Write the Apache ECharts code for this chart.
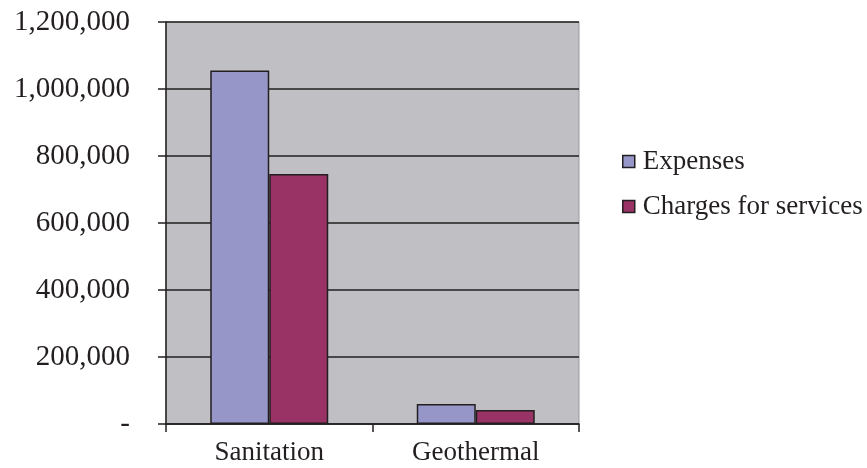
<!DOCTYPE html>
<html>
<head>
<meta charset="utf-8">
<script src="https://cdn.jsdelivr.net/npm/echarts@6/dist/echarts.min.js"></script>
<style>
  html, body { margin: 0; padding: 0; background: #fff; }
  #chart { width: 867px; height: 468px; }
</style>
</head>
<body>
<div id="chart"></div>
<script>
const categories = ['Sanitation', 'Geothermal'];
const expenses = [1055000, 60000];
const charges = [746000, 42000];
const seriesNames = ['Expenses', 'Charges for services'];

const chart = echarts.init(document.getElementById('chart'));
const font = 'Liberation Serif';
const barBorder = { borderColor: '#231f20', borderWidth: 1.5 };

chart.setOption({
  animation: false,
  textStyle: { fontFamily: font },
  grid: {
    left: 166, top: 22, width: 413, height: 402,
    show: true, backgroundColor: '#c0c0c4', borderColor: '#9a9a9a', borderWidth: 1
  },
  legend: {
    orient: 'vertical',
    left: 617, top: 143,
    itemWidth: 12, itemHeight: 12, itemGap: 18,
    icon: 'rect',
    textStyle: { fontFamily: font, fontSize: 27, color: '#231f20', padding: [0, 0, 0, 3] },
    data: seriesNames.map(n => ({ name: n, itemStyle: { borderColor: '#231f20', borderWidth: 1.5 } }))
  },
  xAxis: {
    type: 'category',
    data: categories,
    axisLine: { lineStyle: { color: '#231f20', width: 1.5 } },
    axisTick: { show: true, length: 8, lineStyle: { color: '#231f20', width: 1.5 } },
    axisLabel: { fontFamily: font, fontSize: 27, color: '#231f20', margin: 15 }
  },
  yAxis: {
    type: 'value',
    min: 0, max: 1200000, interval: 200000,
    axisLine: { show: true, lineStyle: { color: '#231f20', width: 1.5 } },
    axisTick: { show: true, length: 8, lineStyle: { color: '#231f20', width: 1.5 } },
    splitLine: { lineStyle: { color: '#231f20', width: 1.5 } },
    axisLabel: {
      fontFamily: font, fontSize: 29, color: '#231f20', margin: 36,
      padding: [4, 0, 0, 0],
      formatter: v => v === 0 ? '-' : v.toLocaleString('en-US')
    }
  },
  series: [
    {
      name: seriesNames[0], type: 'bar', data: expenses,
      barWidth: 59, barGap: '0%',
      itemStyle: Object.assign({ color: '#9696c8' }, barBorder)
    },
    {
      name: seriesNames[1], type: 'bar', data: charges,
      barWidth: 59,
      itemStyle: Object.assign({ color: '#993366' }, barBorder)
    }
  ]
});
</script>
</body>
</html>
